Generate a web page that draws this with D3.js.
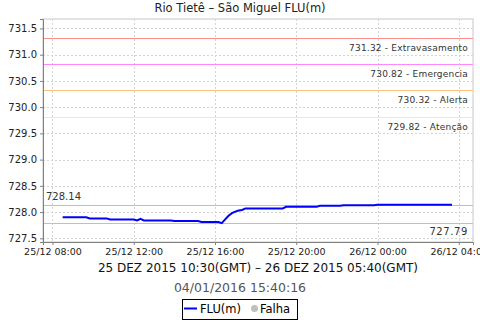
<!DOCTYPE html>
<html>
<head>
<meta charset="utf-8">
<script src="https://cdn.jsdelivr.net/npm/d3@7"></script>
<style>
  body { margin: 0; background: #fff; }
  svg { display: block; font-family: "DejaVu Sans", sans-serif; }
</style>
</head>
<body>
<div id="viz"></div>
<script>
// level readings (local time), step-like series
var times = ["2015-12-25 08:30","2015-12-25 09:40","2015-12-25 09:50","2015-12-25 10:40","2015-12-25 10:50",
  "2015-12-25 12:00","2015-12-25 12:10","2015-12-25 12:20","2015-12-25 12:30","2015-12-25 13:50",
  "2015-12-25 14:00","2015-12-25 15:10","2015-12-25 15:20","2015-12-25 16:10","2015-12-25 16:20",
  "2015-12-25 16:30","2015-12-25 16:40","2015-12-25 16:50","2015-12-25 17:00","2015-12-25 17:10",
  "2015-12-25 17:20","2015-12-25 17:30","2015-12-25 19:20","2015-12-25 19:30","2015-12-25 21:00",
  "2015-12-25 21:10","2015-12-25 22:10","2015-12-25 22:20","2015-12-25 23:50","2015-12-26 00:00",
  "2015-12-26 03:40"];
var levels = [727.90,727.90,727.88,727.88,727.86,
  727.86,727.84,727.87,727.84,727.84,
  727.83,727.83,727.81,727.81,727.79,
  727.86,727.93,727.98,728.01,728.03,
  728.04,728.07,728.07,728.10,728.10,
  728.12,728.12,728.13,728.13,728.14,
  728.14];

var thresholdValues = [731.32, 730.82, 730.32, 729.82];
var thresholdNames = ["Extravasamento", "Emergencia", "Alerta", "Atenção"];
var thresholdColors = ["#ff9090", "#ff88ff", "#ffc080", "#ffee88"];

var yTicks = [727.5, 728.0, 728.5, 729.0, 729.5, 730.0, 730.5, 731.0, 731.5];
var xTicks = ["2015-12-25 08:00","2015-12-25 12:00","2015-12-25 16:00","2015-12-25 20:00","2015-12-26 00:00","2015-12-26 04:00"];

var title = "Rio Tietê – São Miguel FLU(m)";
var subtitle = "25 DEZ 2015 10:30(GMT) – 26 DEZ 2015 05:40(GMT)";
var stamp = "04/01/2016 15:40:16";

var parse = d3.timeParse("%Y-%m-%d %H:%M");
var data = times.map(function(t, i) { return {t: parse(t), v: levels[i]}; });

var W = 480, H = 320;
var pL = 43, pR = 473, pT = 19, pB = 242;

var x = d3.scaleTime()
  .domain([parse("2015-12-25 07:32"), parse("2015-12-26 04:42")])
  .range([pL, pR]);
var y = d3.scaleLinear().domain([727.43, 731.68]).range([pB, pT]);

var svg = d3.select("#viz").append("svg").attr("width", W).attr("height", H);

// plot frame
svg.append("rect").attr("x", pL).attr("y", pT)
  .attr("width", pR - pL).attr("height", pB - pT)
  .attr("fill", "#fff").attr("stroke", "#c8c8c8");

// grid
svg.append("g").selectAll("line").data(xTicks.map(parse)).enter().append("line")
  .attr("x1", function(d) { return Math.round(x(d)) + 0.5; })
  .attr("x2", function(d) { return Math.round(x(d)) + 0.5; })
  .attr("y1", pT).attr("y2", pB)
  .attr("stroke", "#d4d4d4").attr("stroke-dasharray", "2,2");
svg.append("g").selectAll("line").data(yTicks).enter().append("line")
  .attr("y1", function(d) { return Math.round(y(d)) + 0.5; })
  .attr("y2", function(d) { return Math.round(y(d)) + 0.5; })
  .attr("x1", pL).attr("x2", pR)
  .attr("stroke", "#d4d4d4").attr("stroke-dasharray", "2,2");

// threshold lines + labels
thresholdValues.forEach(function(v, i) {
  var py = Math.round(y(v)) + 0.5;
  svg.append("line").attr("x1", pL).attr("x2", pR).attr("y1", py).attr("y2", py)
    .attr("stroke", thresholdColors[i]).attr("stroke-width", 1.2);
  svg.append("text").attr("x", 468).attr("y", py + 12)
    .attr("text-anchor", "end").attr("font-size", 9).attr("fill", "#333")
    .attr("letter-spacing", 0.2)
    .text(v.toFixed(2) + " - " + thresholdNames[i]);
});

// max / min markers
var vmax = d3.max(levels), vmin = d3.min(levels);
[vmax, vmin].forEach(function(v) {
  var py = Math.round(y(v)) + 0.5;
  svg.append("line").attr("x1", pL).attr("x2", pR).attr("y1", py).attr("y2", py)
    .attr("stroke", "#c0c0c0").attr("stroke-width", 1.2);
});
svg.append("text").attr("x", 46).attr("y", y(vmax) - 5)
  .attr("font-size", 10).attr("fill", "#333").text(vmax.toFixed(2));
svg.append("text").attr("x", 468).attr("y", y(vmin) + 12).attr("text-anchor", "end")
  .attr("font-size", 10).attr("fill", "#333").attr("letter-spacing", 0.6).text(vmin.toFixed(2));

// series
svg.append("path").datum(data)
  .attr("fill", "none").attr("stroke", "#0000ff").attr("stroke-width", 2)
  .attr("d", d3.line().x(function(d) { return x(d.t); }).y(function(d) { return y(d.v); }));

// axes
var yAxis = svg.append("g").attr("transform", "translate(" + pL + ",0)")
  .call(d3.axisLeft(y).tickValues(yTicks).tickFormat(d3.format(".1f")).tickSize(3).tickPadding(3));
var xAxis = svg.append("g").attr("transform", "translate(0," + pB + ")")
  .call(d3.axisBottom(x).tickValues(xTicks.map(parse)).tickFormat(d3.timeFormat("%d/%m %H:%M")).tickSize(3).tickPadding(3));
[yAxis, xAxis].forEach(function(a) {
  a.select(".domain").attr("stroke", "#808080");
  a.selectAll(".tick line").attr("stroke", "#808080");
  a.selectAll("text").attr("font-family", "DejaVu Sans").attr("font-size", 10).attr("fill", "#222");
});
xAxis.selectAll("text").attr("font-size", 9.5);

// titles
svg.append("text").attr("x", 240).attr("y", 12).attr("text-anchor", "middle")
  .attr("font-size", 11.5).attr("fill", "#222").text(title);
svg.append("text").attr("x", (pL + pR) / 2).attr("y", 272).attr("text-anchor", "middle")
  .attr("font-size", 12).attr("fill", "#111").text(subtitle);
svg.append("text").attr("x", 240).attr("y", 292).attr("text-anchor", "middle")
  .attr("font-size", 12.5).attr("fill", "#555").text(stamp);

// legend
var lg = svg.append("g");
lg.append("rect").attr("x", 182.5).attr("y", 299.5).attr("width", 115).attr("height", 20)
  .attr("fill", "#fff").attr("stroke", "#000");
lg.append("line").attr("x1", 184).attr("x2", 197).attr("y1", 308.5).attr("y2", 308.5)
  .attr("stroke", "#0000ff").attr("stroke-width", 2);
lg.append("text").attr("x", 200).attr("y", 313).attr("font-size", 11.5).attr("fill", "#000").text("FLU(m)");
lg.append("circle").attr("cx", 254.5).attr("cy", 308.5).attr("r", 3.5).attr("fill", "#c0c0c0");
lg.append("text").attr("x", 260).attr("y", 313).attr("font-size", 11.5).attr("fill", "#000").text("Falha");
</script>
</body>
</html>
